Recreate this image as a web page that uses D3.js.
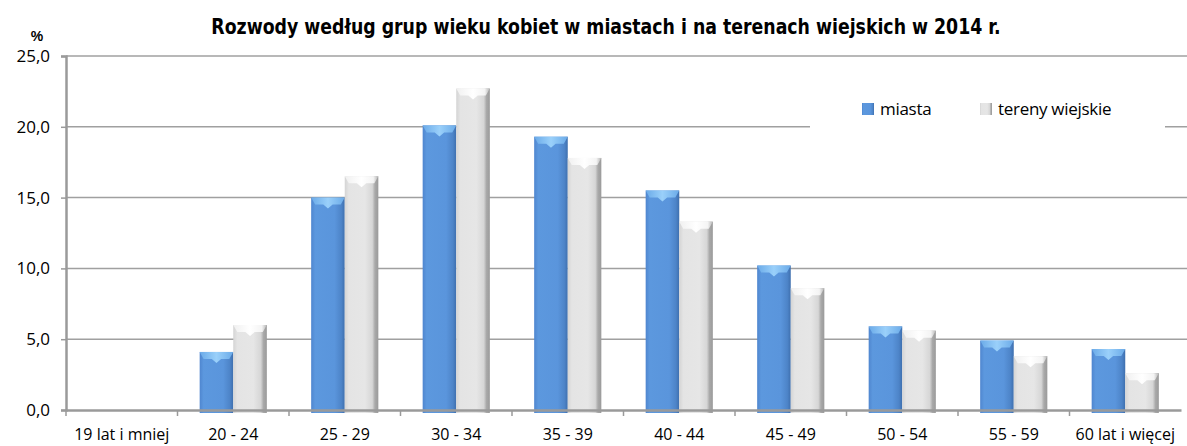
<!DOCTYPE html>
<html>
<head>
<meta charset="utf-8">
<script src="https://cdn.jsdelivr.net/npm/d3@7/dist/d3.min.js"></script>
<style>
  html, body { margin: 0; padding: 0; background: #ffffff; }
  svg { display: block; }
</style>
</head>
<body>
<div class="chart"></div>
<script>
var TITLE = "Rozwody według grup wieku kobiet w miastach i na terenach wiejskich w 2014 r.";
var CATEGORIES = ["19 lat i mniej", "20 - 24", "25 - 29", "30 - 34", "35 - 39",
                  "40 - 44", "45 - 49", "50 - 54", "55 - 59", "60 lat i więcej"];
var SERIES_NAMES = ["miasta", "tereny wiejskie"];
var MIASTA = [0, 4.1, 15.0, 20.1, 19.3, 15.5, 10.2, 5.9, 4.9, 4.3];
var TERENY_WIEJSKIE = [0, 6.0, 16.5, 22.7, 17.8, 13.3, 8.6, 5.6, 3.8, 2.6];
var Y_TICKS = [0, 5, 10, 15, 20, 25];

var WIDTH = 1187;
var HEIGHT = 446;
var AXIS_FONT = "'Open Sans', 'Liberation Sans', sans-serif";

/* Plot box */
var margin = { left: 66, right: 6, top: 56, bottom: 36 };

var svg = d3.select("div.chart").append("svg")
  .attr("width", WIDTH)
  .attr("height", HEIGHT);

var defs = svg.append("defs");

/* Horizontal gradients give the rounded excel-ish bar look */
function barGradient(id, stops) {
  var g = defs.append("linearGradient").attr("id", id)
    .attr("x1", "0").attr("x2", "1").attr("y1", "0").attr("y2", "0");
  stops.forEach(function (s) {
    g.append("stop").attr("offset", s[0]).attr("stop-color", s[1]);
  });
}
barGradient("gradBlue", [[0, "#4f86cf"], [0.12, "#5c98de"], [0.7, "#5a95dc"], [0.9, "#4d84c8"], [1, "#3e6fae"]]);
barGradient("gradGrey", [[0, "#d4d4d4"], [0.12, "#e4e4e4"], [0.6, "#e6e6e6"], [0.82, "#d6d6d6"], [0.9, "#a9a9a9"], [1, "#9a9a9a"]]);
barGradient("capBlue", [[0, "#6aaae8"], [0.5, "#9ad0fa"], [1, "#6aaae8"]]);
barGradient("capGrey", [[0, "#f0f0f0"], [0.5, "#ffffff"], [0.85, "#f4f4f4"], [1, "#b4b4b4"]]);

var x = d3.scaleBand()
  .domain(CATEGORIES)
  .range([margin.left, margin.left + 111.5 * CATEGORIES.length])
  .paddingInner(0)
  .paddingOuter(0);

var y = d3.scaleLinear()
  .domain([0, 25])
  .range([HEIGHT - margin.bottom, margin.top]);

var xSeries = d3.scaleBand()
  .domain(SERIES_NAMES)
  .range([0, x.bandwidth()])
  .paddingInner(0)
  .paddingOuter(0.66);

/* Gridlines */
svg.append("g")
  .selectAll("line")
  .data(Y_TICKS.slice(1))
  .enter().append("line")
  .attr("x1", margin.left)
  .attr("x2", WIDTH)
  .attr("y1", function (d) { return y(d); })
  .attr("y2", function (d) { return y(d); })
  .attr("stroke", "#a0a0a0")
  .attr("stroke-width", 1.5);

/* Bars */
var rows = CATEGORIES.map(function (c, i) {
  return { cat: c, values: [MIASTA[i], TERENY_WIEJSKIE[i]] };
});

var groups = svg.append("g").selectAll("g")
  .data(rows)
  .enter().append("g")
  .attr("transform", function (d) { return "translate(" + x(d.cat) + ",0)"; });

groups.each(function (row) {
  var g = d3.select(this);
  row.values.forEach(function (v, si) {
    if (v <= 0) { return; }
    var bx = xSeries(SERIES_NAMES[si]);
    var bw = xSeries.bandwidth();
    var top = y(v);
    var bottom = y(0) + 3;
    g.append("rect")
      .attr("x", bx)
      .attr("y", top)
      .attr("width", bw)
      .attr("height", bottom - top)
      .attr("fill", si === 0 ? "url(#gradBlue)" : "url(#gradGrey)");
    /* light chevron on the top edge */
    var ch = 7;
    var pts = [
      [bx, top], [bx + bw, top],
      [bx + bw - 4, top + ch], [bx + bw * 0.64, top + ch],
      [bx + bw * 0.5, top + ch + 4], [bx + bw * 0.36, top + ch],
      [bx + 4, top + ch]
    ];
    g.append("polygon")
      .attr("points", pts.map(function (p) { return p.join(","); }).join(" "))
      .attr("fill", si === 0 ? "url(#capBlue)" : "url(#capGrey)");
  });
});

/* Y axis */
var yAxis = svg.append("g")
  .attr("transform", "translate(" + margin.left + ",0)")
  .call(d3.axisLeft(y).tickValues(Y_TICKS).tickSize(5).tickPadding(11)
    .tickFormat(function (d) { return d3.format(".1f")(d).replace(".", ","); }));
yAxis.select(".domain").attr("stroke", "#9a9a9a").attr("stroke-width", 2.5);
yAxis.selectAll(".tick line").attr("stroke", "#9a9a9a").attr("stroke-width", 1.5);
yAxis.selectAll(".tick text")
  .attr("font-family", AXIS_FONT)
  .attr("font-size", 17)
  .attr("fill", "#000");

/* X axis */
var xAxis = svg.append("g")
  .attr("transform", "translate(0," + y(0) + ")")
  .call(d3.axisBottom(x).tickSize(0).tickPadding(19));
xAxis.select(".domain").attr("stroke", "#9a9a9a").attr("stroke-width", 2.5);
xAxis.selectAll(".tick text")
  .attr("font-family", AXIS_FONT)
  .attr("font-size", 16)
  .attr("fill", "#000");
/* category separators below the axis */
xAxis.append("g").selectAll("line")
  .data(CATEGORIES)
  .enter().append("line")
  .attr("x1", function (d) { return x(d); })
  .attr("x2", function (d) { return x(d); })
  .attr("y1", 0)
  .attr("y2", 6)
  .attr("stroke", "#9a9a9a")
  .attr("stroke-width", 1.5);

/* Legend, with a white box over the gridline */
var legend = svg.append("g");
legend.append("rect")
  .attr("x", 810).attr("y", 94).attr("width", 355).attr("height", 40)
  .attr("fill", "#ffffff");
var legendItems = [{ name: SERIES_NAMES[0], x: 862, fill: "url(#gradBlue)" },
                   { name: SERIES_NAMES[1], x: 980, fill: "url(#gradGrey)" }];
legendItems.forEach(function (it) {
  legend.append("rect")
    .attr("x", it.x).attr("y", 103).attr("width", 12).attr("height", 12)
    .attr("fill", it.fill);
  legend.append("text")
    .attr("x", it.x + 18).attr("y", 115)
    .attr("font-family", AXIS_FONT)
    .attr("font-size", 17)
    .attr("letter-spacing", -0.3)
    .text(it.name);
});

/* Title and unit: condensed bold, stretched to the reference width */
var title = svg.append("text")
  .attr("text-anchor", "middle")
  .attr("font-family", "'DejaVu Sans Condensed', 'Liberation Sans Narrow', sans-serif")
  .attr("font-weight", "bold")
  .attr("font-size", 21)
  .text(TITLE);
var tw = title.node().getComputedTextLength();
title.attr("transform", "translate(606,34) scale(" + (790 / tw) + ",1)");

svg.append("text")
  .attr("x", 37)
  .attr("y", 41)
  .attr("text-anchor", "middle")
  .attr("font-family", "'Liberation Sans', sans-serif")
  .attr("font-weight", "bold")
  .attr("font-size", 14)
  .text("%");
</script>
</body>
</html>
